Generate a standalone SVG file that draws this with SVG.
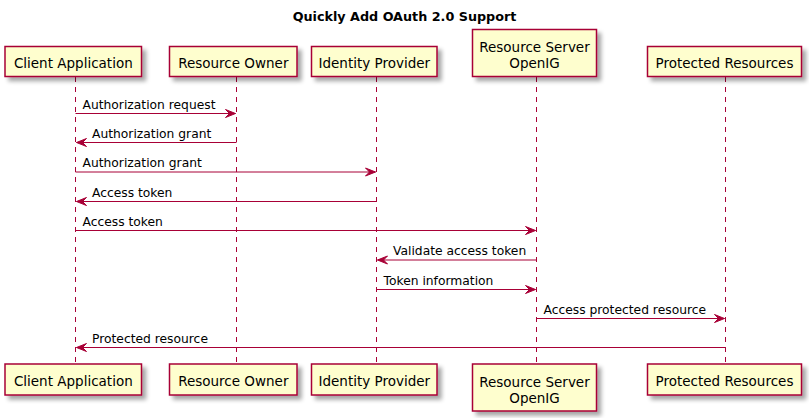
<svg xmlns="http://www.w3.org/2000/svg" width="809" height="418" viewBox="0 0 809 418">
<style>
.title{font-family:"DejaVu Sans",sans-serif;font-weight:bold;font-size:12.75px;fill:#000}
.box{fill:#FEFECE;stroke:#A80036;stroke-width:1.5}
.pt{font-family:"DejaVu Sans",sans-serif;font-size:13.5px;fill:#000;text-anchor:middle}
.life{stroke:#A80036;stroke-width:1;stroke-dasharray:5,5;fill:none}
.msg{stroke:#A80036;stroke-width:1;fill:none;marker-end:url(#ah)}
.ml{font-family:"DejaVu Sans",sans-serif;font-size:12.3px;fill:#000}
</style>
<defs>
<filter id="sh" x="-10%" y="-20%" width="130%" height="160%">
<feGaussianBlur in="SourceAlpha" stdDeviation="2"/>
<feOffset dx="4" dy="4" result="b"/>
<feComponentTransfer><feFuncA type="linear" slope="0.35"/></feComponentTransfer>
<feMerge><feMergeNode/><feMergeNode in="SourceGraphic"/></feMerge>
</filter>
<marker id="ah" markerUnits="userSpaceOnUse" markerWidth="12" markerHeight="10" refX="10" refY="4" orient="auto" overflow="visible">
<path d="M0,0 L10,4 L0,8 L4,4 Z" fill="#A80036" stroke="#A80036" stroke-width="1"/>
</marker>
</defs>
<text class="title" x="404.5" y="21" text-anchor="middle">Quickly Add OAuth 2.0 Support</text>
<g id="lifelines">
<line class="life" x1="75.5" y1="77" x2="75.5" y2="364"/>
<line class="life" x1="236.5" y1="77" x2="236.5" y2="364"/>
<line class="life" x1="376.5" y1="77" x2="376.5" y2="364"/>
<line class="life" x1="536.5" y1="77" x2="536.5" y2="364"/>
<line class="life" x1="725.5" y1="77" x2="725.5" y2="364"/>
</g>
<g id="client">
<rect class="box" filter="url(#sh)" x="5" y="46.5" width="136.5" height="30"/>
<text class="pt" x="73.3" y="67.5">Client Application</text>
<rect class="box" filter="url(#sh)" x="5" y="364" width="136.5" height="31"/>
<text class="pt" x="73.3" y="385.5">Client Application</text>
</g>
<g id="owner">
<rect class="box" filter="url(#sh)" x="169.5" y="46.5" width="127.5" height="30"/>
<text class="pt" x="233.3" y="67.5">Resource Owner</text>
<rect class="box" filter="url(#sh)" x="169.5" y="364" width="127.5" height="31"/>
<text class="pt" x="233.3" y="385.5">Resource Owner</text>
</g>
<g id="idp">
<rect class="box" filter="url(#sh)" x="311.5" y="46.5" width="125.5" height="30"/>
<text class="pt" x="374.3" y="67.5">Identity Provider</text>
<rect class="box" filter="url(#sh)" x="311.5" y="364" width="125.5" height="31"/>
<text class="pt" x="374.3" y="385.5">Identity Provider</text>
</g>
<g id="rs">
<rect class="box" filter="url(#sh)" x="472.5" y="29.5" width="124" height="47"/>
<text class="pt" x="534.5" y="52"><tspan x="534.5">Resource Server</tspan><tspan x="534.5" y="68">OpenIG</tspan></text>
<rect class="box" filter="url(#sh)" x="472.5" y="364" width="124" height="47"/>
<text class="pt" x="534.5" y="386.5"><tspan x="534.5">Resource Server</tspan><tspan x="534.5" y="402.5">OpenIG</tspan></text>
</g>
<g id="protected">
<rect class="box" filter="url(#sh)" x="647.5" y="46.5" width="154" height="30"/>
<text class="pt" x="724.5" y="67.5">Protected Resources</text>
<rect class="box" filter="url(#sh)" x="647.5" y="364" width="154" height="31"/>
<text class="pt" x="724.5" y="385.5">Protected Resources</text>
</g>
<g id="connectors">
<line class="msg" x1="75.5" y1="113.5" x2="235.5" y2="113.5"/>
<text class="ml" x="82.5" y="108.5">Authorization request</text>
<line class="msg" x1="236.5" y1="142.5" x2="76.5" y2="142.5"/>
<text class="ml" x="92" y="137.5">Authorization grant</text>
<line class="msg" x1="75.5" y1="172" x2="375.5" y2="172"/>
<text class="ml" x="82.5" y="167">Authorization grant</text>
<line class="msg" x1="376.5" y1="201.5" x2="76.5" y2="201.5"/>
<text class="ml" x="92" y="196.5">Access token</text>
<line class="msg" x1="75.5" y1="230.5" x2="535.5" y2="230.5"/>
<text class="ml" x="82.5" y="225.5">Access token</text>
<line class="msg" x1="536.5" y1="260" x2="377.5" y2="260"/>
<text class="ml" x="393" y="255">Validate access token</text>
<line class="msg" x1="376.5" y1="289.5" x2="535.5" y2="289.5"/>
<text class="ml" x="383.5" y="284.5">Token information</text>
<line class="msg" x1="536.5" y1="318.5" x2="724.5" y2="318.5"/>
<text class="ml" x="543.5" y="313.5">Access protected resource</text>
<line class="msg" x1="725.5" y1="347.5" x2="76.5" y2="347.5"/>
<text class="ml" x="92" y="342.5">Protected resource</text>
</g>
</svg>
